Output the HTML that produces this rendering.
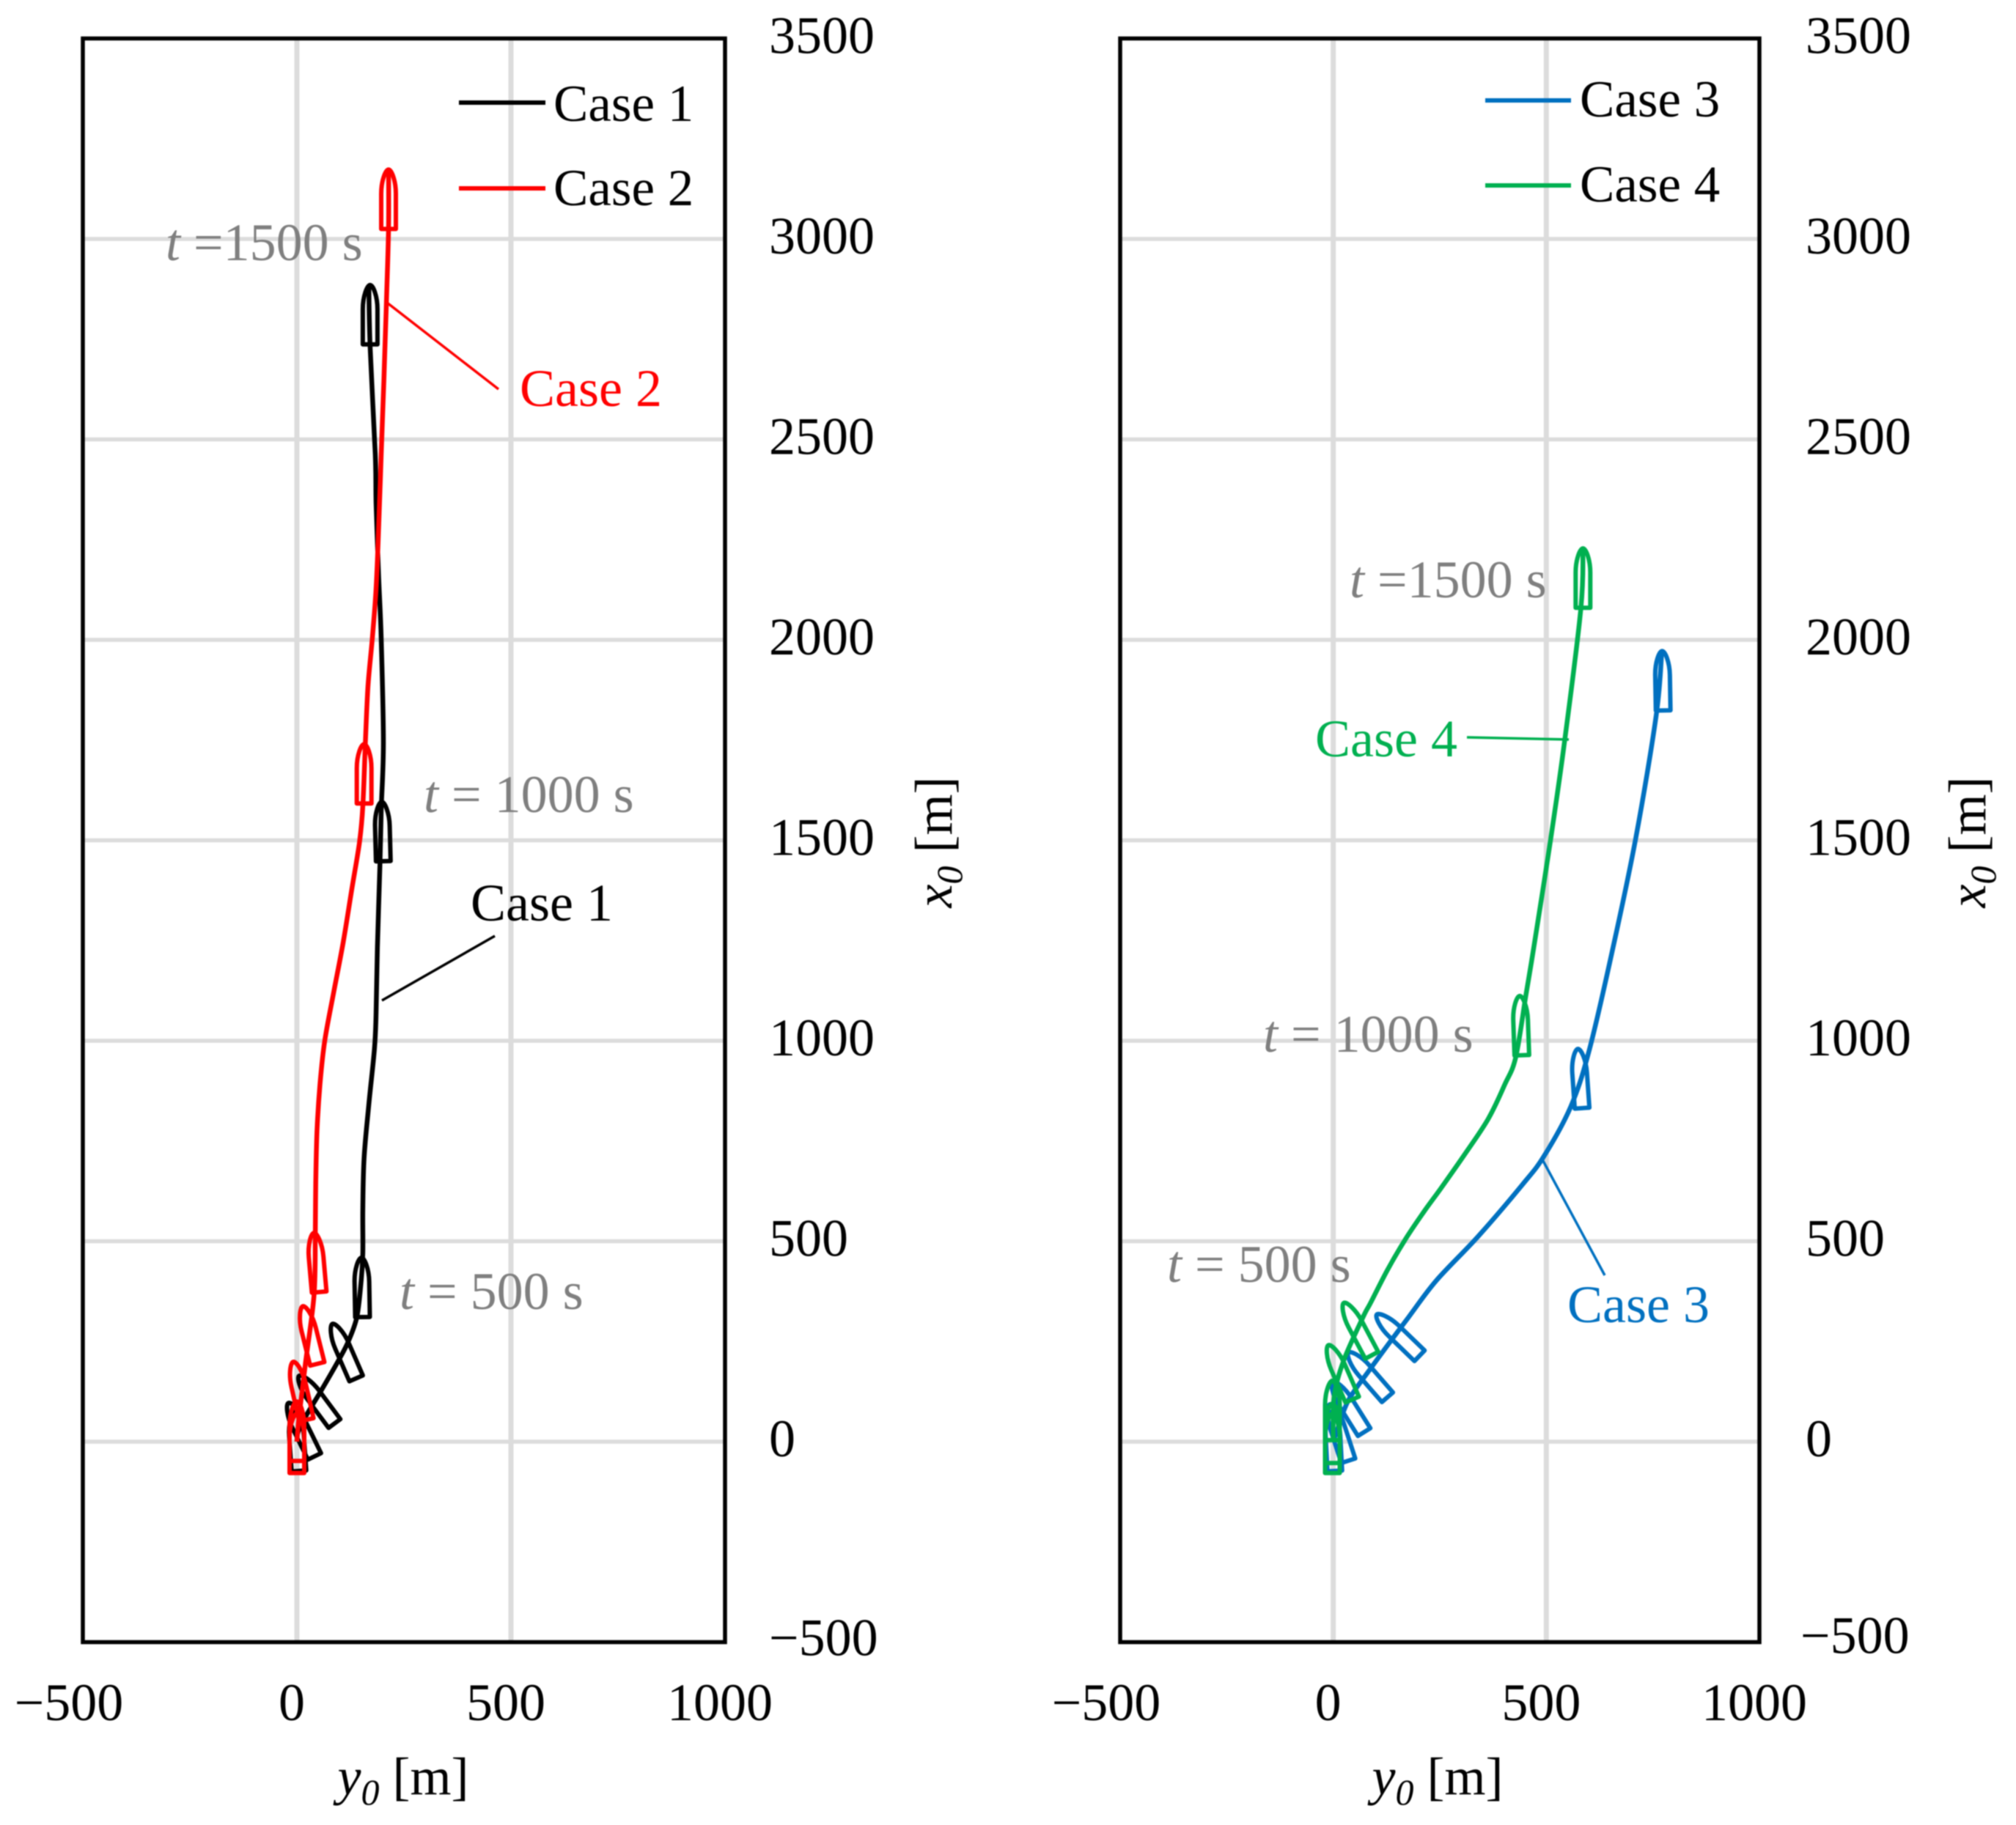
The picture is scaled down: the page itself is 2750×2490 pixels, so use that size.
<!DOCTYPE html>
<html lang="en">
<head>
<meta charset="utf-8">
<title>Ship trajectories</title>
<style>
html,body{margin:0;padding:0;background:#fff;}
svg{display:block;filter:blur(0.8px);}
text{font-family:"Liberation Serif",serif;}
.tick{font-size:72px;fill:#000;}
.ttl{font-size:72px;fill:#000;}
.leg{font-size:71px;fill:#000;}
.ann{font-size:72px;fill:#7f7f7f;}
.lab{font-size:72px;}
</style>
</head>
<body>
<svg id="chart" xmlns="http://www.w3.org/2000/svg" width="2750" height="2490" viewBox="0 0 2750 2490">
  <rect width="2750" height="2490" fill="#fff"/>
  <g id="panel-left"></g>
  <g id="panel-right"></g>

  <g>
    <line x1="626" y1="140" x2="744" y2="140" stroke="#000" stroke-width="6"/>
    <text x="755" y="165" class="leg">Case 1</text>
    <line x1="626" y1="257" x2="744" y2="257" stroke="#ff0000" stroke-width="6"/>
    <text x="755" y="280" class="leg">Case 2</text>
  </g>
  <g>
    <line x1="2026" y1="137" x2="2143" y2="137" stroke="#0070c0" stroke-width="6"/>
    <text x="2155" y="159" class="leg">Case 3</text>
    <line x1="2026" y1="253" x2="2143" y2="253" stroke="#00b050" stroke-width="6"/>
    <text x="2155" y="275" class="leg">Case 4</text>
  </g>

  <g>
    <text x="226" y="355" class="ann"><tspan font-style="italic">t</tspan> =1500 s</text>
    <text x="578" y="1108" class="ann"><tspan font-style="italic">t</tspan> = 1000 s</text>
    <text x="545" y="1786" class="ann"><tspan font-style="italic">t</tspan> = 500 s</text>
    <text x="1841" y="815" class="ann"><tspan font-style="italic">t</tspan> =1500 s</text>
    <text x="1723" y="1435" class="ann"><tspan font-style="italic">t</tspan> = 1000 s</text>
    <text x="1592" y="1749" class="ann"><tspan font-style="italic">t</tspan> = 500 s</text>
  </g>

  <g>
    <line x1="528" y1="413" x2="680" y2="531" stroke="#ff0000" stroke-width="3.5"/>
    <text x="709" y="554" class="lab" fill="#ff0000">Case 2</text>
    <line x1="521" y1="1365" x2="675" y2="1277" stroke="#000" stroke-width="3.5"/>
    <text x="642" y="1256" class="lab" fill="#000">Case 1</text>
    <line x1="2001" y1="1006" x2="2140" y2="1009" stroke="#00b050" stroke-width="3.5"/>
    <text x="1794" y="1032" class="lab" fill="#00b050">Case 4</text>
    <line x1="2105" y1="1584" x2="2189" y2="1740" stroke="#0070c0" stroke-width="3.5"/>
    <text x="2138" y="1804" class="lab" fill="#0070c0">Case 3</text>
  </g>

  <text x="550" y="2448" text-anchor="middle" class="ttl"><tspan font-style="italic">y</tspan><tspan font-style="italic" font-size="50" dy="14">0</tspan><tspan dy="-14"> [m]</tspan></text>
  <text x="1961" y="2448" text-anchor="middle" class="ttl"><tspan font-style="italic">y</tspan><tspan font-style="italic" font-size="50" dy="14">0</tspan><tspan dy="-14"> [m]</tspan></text>
  <text transform="translate(1298,1149) rotate(-90)" text-anchor="middle" class="ttl"><tspan font-style="italic">x</tspan><tspan font-style="italic" font-size="50" dy="14">0</tspan><tspan dy="-14"> [m]</tspan></text>
  <text transform="translate(2708,1149) rotate(-90)" text-anchor="middle" class="ttl"><tspan font-style="italic">x</tspan><tspan font-style="italic" font-size="50" dy="14">0</tspan><tspan dy="-14"> [m]</tspan></text>
</svg>

<script>
// Axis ticks
const xTicks = [-500, 0, 500, 1000];
const yTicks = [-500, 0, 500, 1000, 1500, 2000, 2500, 3000, 3500];

// Trajectories: y0 (horizontal), x0 (vertical), metres
const case1Y = [0, 3, 20, 57, 100, 120, 140, 150, 154, 154, 157, 168, 181, 185, 188, 194, 197, 202, 197, 191, 185, 183, 171, 168];
const case1X = [0, 25, 62, 128, 208, 250, 311, 400, 470, 579, 709, 841, 978, 1069, 1232, 1441, 1576, 1744, 2002, 2157, 2340, 2463, 2730, 2885];
const case2Y = [0, 5, 20, 40, 43, 44, 47, 54, 65, 86, 108, 128, 146, 154, 160, 166, 176, 185, 191, 197, 203, 209, 214, 214];
const case2X = [0, 62, 196, 366, 521, 645, 775, 892, 1000, 1121, 1245, 1377, 1494, 1585, 1744, 1883, 2002, 2128, 2280, 2463, 2645, 2841, 3024, 3175];
const case3Y = [0, 10, 36, 88, 177, 242, 340, 443, 495, 557, 600, 655, 710, 758, 771];
const case3X = [0, 31, 104, 183, 311, 402, 512, 640, 713, 835, 974, 1225, 1506, 1813, 1973];
const case4Y = [0, 2, 24, 70, 88, 127, 170, 213, 254, 306, 363, 402, 428, 452, 471, 509, 543, 581, 586];
const case4X = [0, 110, 201, 311, 347, 428, 506, 574, 634, 713, 804, 890, 958, 1113, 1236, 1495, 1748, 2078, 2229];

// Ship markers: centre position and heading in degrees
const ship1Y = [0, 11, 47, 111, 152, 200, 171];
const ship1X = [0, 29, 104, 225, 384, 1521, 2810];
const ship1H = [-4, -26, -36.6, -23.5, -1, -1.5, 0];
const ship2Y = [0, 0, 7, 31, 46, 157, 214];
const ship2X = [-5, 25, 126, 265, 446, 1665, 3098];
const ship2H = [0, 0, -12.7, -14, -5, 0, 0];
const ship3Y = [0, 14, 36, 82, 153, 579, 773];
const ship3X = [0, 22, 86, 166, 265, 905, 1897];
const ship3H = [-3, -18, -32, -41, -46, -4, -1];
const ship4Y = [-2, -2, -2, 17, 58, 440, 586];
const ship4X = [-5, 20, 77, 172, 280, 1037, 2153];
const ship4H = [0, 0, 0, -23.6, -28, -2, 0];

const SVGNS = 'http://www.w3.org/2000/svg';

function makeEl(tag) {
  return document.createElementNS(SVGNS, tag);
}

function setAttrs(el, attrs) {
  Object.keys(attrs).forEach(function (k) { el.setAttribute(k, attrs[k]); });
}

function smoothPath(pts) {
  let d = 'M' + pts[0][0].toFixed(1) + ',' + pts[0][1].toFixed(1);
  for (let i = 0; i < pts.length - 1; i++) {
    const p0 = pts[Math.max(0, i - 1)];
    const p1 = pts[i];
    const p2 = pts[i + 1];
    const p3 = pts[Math.min(pts.length - 1, i + 2)];
    const c1x = p1[0] + (p2[0] - p0[0]) / 6;
    const c1y = p1[1] + (p2[1] - p0[1]) / 6;
    const c2x = p2[0] - (p3[0] - p1[0]) / 6;
    const c2y = p2[1] - (p3[1] - p1[1]) / 6;
    d += 'C' + c1x.toFixed(1) + ',' + c1y.toFixed(1) + ' ' + c2x.toFixed(1) + ',' + c2y.toFixed(1) + ' ' + p2[0].toFixed(1) + ',' + p2[1].toFixed(1);
  }
  return d;
}

const SHIP_SHAPE = 'M-10,40 L-10,-8 C-10,-26 -4,-41 0,-41 C4,-41 10,-26 10,-8 L10,40 Z';

function drawPanel(rootId, left, right, top, bottom, tickLabelX, negTickX, negTickDy, series) {
  const root = document.getElementById(rootId);
  const sx = function (v) { return left + (v + 500) * (right - left) / 1500; };
  const sy = function (v) { return bottom - (v + 500) * (bottom - top) / 4000; };

  xTicks.forEach(function (t) {
    if (t > -500 && t < 1000) {
      const g = makeEl('line');
      setAttrs(g, { x1: sx(t), x2: sx(t), y1: top, y2: bottom, stroke: '#dcdcdc', 'stroke-width': 7 });
      
      
      root.appendChild(g);
    }
    const lbl = makeEl('text');
    setAttrs(lbl, { x: sx(t) + (t < 0 ? -19 : -7), y: 2347, 'text-anchor': 'middle', class: 'tick' });
    lbl.textContent = String(t).replace('-', '\u2212');
    
    
    root.appendChild(lbl);
  });

  yTicks.forEach(function (t) {
    if (t > -500 && t < 3500) {
      const g = makeEl('line');
      setAttrs(g, { x1: left, x2: right, y1: sy(t), y2: sy(t), stroke: '#dcdcdc', 'stroke-width': 5.5 });
      
      
      root.appendChild(g);
    }
    const lbl = makeEl('text');
    const neg = t < 0;
    setAttrs(lbl, { x: neg ? negTickX : tickLabelX, y: sy(t) + 20 + (neg ? negTickDy : 0), class: 'tick' });
    lbl.textContent = String(t).replace('-', '\u2212');
    
    
    root.appendChild(lbl);
  });

  series.forEach(function (s) {
    const pts = s.y.map(function (v, i) { return [sx(v), sy(s.x[i])]; });
    const line = makeEl('path');
    setAttrs(line, { d: smoothPath(pts), fill: 'none', stroke: s.color, 'stroke-width': 6.5, 'stroke-linejoin': 'round' });
    
    
    root.appendChild(line);

    s.shipY.forEach(function (v, i) {
      const ship = makeEl('path');
      setAttrs(ship, {
        d: SHIP_SHAPE,
        fill: 'none',
        stroke: s.color,
        'stroke-width': 6,
        'stroke-linejoin': 'round',
        transform: 'translate(' + sx(v).toFixed(1) + ',' + sy(s.shipX[i]).toFixed(1) + ') rotate(' + s.shipH[i] + ')'
      });
      
      
      root.appendChild(ship);
    });
  });

  const frame = makeEl('rect');
  setAttrs(frame, { x: left, y: top, width: right - left, height: bottom - top, fill: 'none', stroke: '#000', 'stroke-width': 5.5 });
  
  
  root.appendChild(frame);
}

drawPanel('panel-left', 113, 989, 52.5, 2240.5, 1049, 1049, -2, [
  { color: '#000000', y: case1Y, x: case1X, shipY: ship1Y, shipX: ship1X, shipH: ship1H },
  { color: '#ff0000', y: case2Y, x: case2X, shipY: ship2Y, shipX: ship2X, shipH: ship2H }
]);
drawPanel('panel-right', 1528, 2400, 52.5, 2240.5, 2463, 2456, -5, [
  { color: '#0070c0', y: case3Y, x: case3X, shipY: ship3Y, shipX: ship3X, shipH: ship3H },
  { color: '#00b050', y: case4Y, x: case4X, shipY: ship4Y, shipX: ship4X, shipH: ship4H }
]);
</script>
</body>
</html>
